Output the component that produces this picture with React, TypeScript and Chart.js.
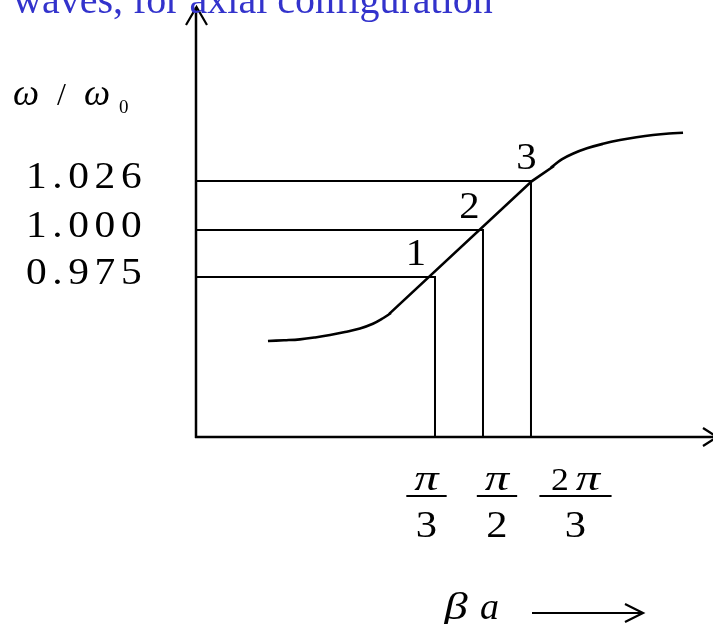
import React, { useEffect, useRef } from "react";
import { Chart, registerables } from "chart.js";

Chart.register(...registerables);

// ---------- data ----------
const TITLE = "waves, for axial configuration";
const X_AXIS_NAME = ["β", "a"];

const Y_TICK_VALUES = [0.975, 1.0, 1.026];
const Y_TICK_LABELS = ["0.975", "1.000", "1.026"];

const X_TICK_VALUES = [Math.PI / 3, Math.PI / 2, (2 * Math.PI) / 3];
const X_TICK_NUMERATORS = ["π", "π", "2π"];
const X_TICK_DENOMINATORS = ["3", "2", "3"];

const POINT_LABELS = ["1", "2", "3"];

// dispersion curve (βa, ω/ω0): lower bend, linear middle, upper bend
const LOWER_X = [-0.775, -0.6, -0.426, -0.26, -0.098, 0.065, 0.229, 0.37, 0.48, 0.567];
const LOWER_Y = [0.941, 0.9414, 0.9419, 0.9429, 0.9442, 0.9458, 0.9477, 0.9502, 0.9531, 0.9559];
const LINEAR_X = [0.545, 2.105, 2.345];
const LINEAR_Y = [0.9553, 1.026, 1.034];
const UPPER_X = [2.312, 2.43, 2.55, 2.705, 2.88, 3.065, 3.245, 3.425, 3.6, 3.753];
const UPPER_Y = [1.0332, 1.0375, 1.0405, 1.0434, 1.0458, 1.0478, 1.0493, 1.0505, 1.0513, 1.0517];

// axis extents
const X_MIN = -1.56;
const X_MAX = 4.08;
const Y_MIN = 0.89;
const Y_MAX = 1.1185;

// ---------- style / layout ----------
const FONT = '"Liberation Serif", "Times New Roman", serif';
const FRACTION_DX = [-8.5, 14, 44.5];
const POINT_LABEL_DX = [-19, -13.5, -4.5];

type TextOpts = {
  size: number;
  italic?: boolean;
  sx?: number;
  spacing?: number;
  align?: "left" | "center" | "right";
  color?: string;
};

function drawText(ctx: CanvasRenderingContext2D, text: string, x: number, y: number, o: TextOpts) {
  ctx.save();
  ctx.font = `${o.italic ? "italic " : ""}${o.size}px ${FONT}`;
  ctx.fillStyle = o.color ?? "#000";
  ctx.textBaseline = "alphabetic";
  ctx.textAlign = "left";
  const sx = o.sx ?? 1;
  const sp = o.spacing ?? 0;
  const chars = Array.from(text);
  const widths = chars.map((c) => ctx.measureText(c).width);
  const total = (widths.reduce((a, b) => a + b, 0) + sp * (chars.length - 1)) * sx;
  let start = x;
  if (o.align === "center") start = x - total / 2;
  if (o.align === "right") start = x - total;
  ctx.translate(start, y);
  ctx.scale(sx, 1);
  let cx = 0;
  chars.forEach((c, i) => {
    ctx.fillText(c, cx, 0);
    cx += widths[i] + sp;
  });
  ctx.restore();
  return total;
}

// mixed numerator: digits upright & smaller, greek letters italic
const isGreek = (c: string) => /[\u0370-\u03ff]/.test(c);
function numParts(text: string) {
  return Array.from(text).map((c) =>
    isGreek(c) ? { c, o: { size: 36, italic: true, sx: 1.35 } as TextOpts } : { c, o: { size: 31, sx: 1.15 } as TextOpts }
  );
}
function measure(ctx: CanvasRenderingContext2D, c: string, o: TextOpts) {
  ctx.save();
  ctx.font = `${o.italic ? "italic " : ""}${o.size}px ${FONT}`;
  const w = ctx.measureText(c).width * (o.sx ?? 1);
  ctx.restore();
  return w;
}
function drawNumerator(ctx: CanvasRenderingContext2D, text: string, cx: number, y: number) {
  const parts = numParts(text);
  const gap = 7;
  const ws = parts.map((p) => measure(ctx, p.c, p.o));
  const total = ws.reduce((a, b) => a + b, 0) + gap * (parts.length - 1);
  let x = cx - total / 2;
  parts.forEach((p, i) => {
    drawText(ctx, p.c, x, y, p.o);
    x += ws[i] + gap;
  });
  return total;
}

function line(ctx: CanvasRenderingContext2D, pts: number[][], w: number) {
  ctx.save();
  ctx.strokeStyle = "#000";
  ctx.lineWidth = w;
  ctx.lineCap = "butt";
  ctx.lineJoin = "miter";
  ctx.beginPath();
  pts.forEach((p, i) => (i === 0 ? ctx.moveTo(p[0], p[1]) : ctx.lineTo(p[0], p[1])));
  ctx.stroke();
  ctx.restore();
}

const decor = {
  id: "decor",
  beforeDatasetsDraw(chart: any) {
    const ctx: CanvasRenderingContext2D = chart.ctx;
    const a = chart.chartArea;
    // y axis with arrow
    line(ctx, [[a.left, a.bottom + 1], [a.left, a.top]], 2.5);
    line(ctx, [[a.left - 10, a.top + 18], [a.left + 0.5, a.top], [a.left + 11, a.top + 18]], 2.2);
    // x axis with arrow
    line(ctx, [[a.left - 1, a.bottom], [a.right + 4, a.bottom]], 2.5);
    line(ctx, [[a.right - 10, a.bottom - 9], [a.right + 4, a.bottom], [a.right - 10, a.bottom + 9]], 2.2);
  },
  afterDatasetsDraw(chart: any) {
    const ctx: CanvasRenderingContext2D = chart.ctx;
    const xs = chart.scales.x;
    const ys = chart.scales.y;

    // title
    drawText(ctx, TITLE, 13, 13, { size: 40, color: "#3333cc" });

    // y axis name: ω / ω0
    drawText(ctx, "ω", 13, 105, { size: 37, italic: true });
    drawText(ctx, "/", 57, 105, { size: 32 });
    drawText(ctx, "ω", 84, 105, { size: 37, italic: true });
    drawText(ctx, "0", 119, 113, { size: 19 });

    // y tick labels
    Y_TICK_VALUES.forEach((v, i) => {
      const py = ys.getPixelForValue(v);
      drawText(ctx, Y_TICK_LABELS[i], 26, py + 7, { size: 37, sx: 1.12, spacing: 5 });
    });

    // point labels 1,2,3
    X_TICK_VALUES.forEach((v, i) => {
      const px = xs.getPixelForValue(v);
      const py = ys.getPixelForValue(Y_TICK_VALUES[i]);
      drawText(ctx, POINT_LABELS[i], px + POINT_LABEL_DX[i], py - 12, { size: 37, sx: 1.1, align: "center" });
    });

    // x tick fraction labels
    X_TICK_VALUES.forEach((v, i) => {
      const cx = xs.getPixelForValue(v) + FRACTION_DX[i];
      const nw = drawNumerator(ctx, X_TICK_NUMERATORS[i], cx, 490);
      const barW = nw + (X_TICK_NUMERATORS[i].length > 1 ? 23 : 16);
      line(ctx, [[cx - barW / 2, 496], [cx + barW / 2, 496]], 1.8);
      drawText(ctx, X_TICK_DENOMINATORS[i], cx, 537, { size: 37, sx: 1.15, align: "center" });
    });

    // x axis name: β a  ----->
    drawText(ctx, X_AXIS_NAME[0], 444, 619, { size: 38, italic: true, sx: 1.25 });
    drawText(ctx, X_AXIS_NAME[1], 480, 619, { size: 38, italic: true });
    line(ctx, [[532, 613], [642, 613]], 2.2);
    line(ctx, [[625, 604], [643, 613], [625, 622]], 2.2);
  },
};

const toPts = (xs: number[], ys: number[]) => xs.map((x, i) => ({ x, y: ys[i] }));

export default function App() {
  const ref = useRef<HTMLCanvasElement>(null);
  useEffect(() => {
    const canvas = ref.current!;
    const refLines = X_TICK_VALUES.map((xv, i) => ({
      data: [
        { x: X_MIN, y: Y_TICK_VALUES[i] },
        { x: xv, y: Y_TICK_VALUES[i] },
        { x: xv, y: Y_MIN },
      ],
      showLine: true,
      pointRadius: 0,
      borderColor: "#000",
      borderWidth: 2,
      tension: 0,
      fill: false,
    }));
    const curve = {
      showLine: true,
      pointRadius: 0,
      borderColor: "#000",
      borderWidth: 2.6,
      fill: false,
      borderCapStyle: "butt",
    };
    const chart = new Chart(canvas, {
      type: "scatter",
      data: {
        datasets: [
          ...refLines,
          { ...curve, data: toPts(LOWER_X, LOWER_Y), tension: 0.4 },
          { ...curve, data: toPts(LINEAR_X, LINEAR_Y), tension: 0 },
          { ...curve, data: toPts(UPPER_X, UPPER_Y), tension: 0.4 },
        ] as any,
      },
      options: {
        responsive: false,
        animation: false,
        devicePixelRatio: 1,
        events: [],
        layout: { padding: { left: 196, top: 7, right: 0, bottom: 187 } },
        scales: {
          x: { type: "linear", min: X_MIN, max: X_MAX, display: false },
          y: { type: "linear", min: Y_MIN, max: Y_MAX, display: false },
        },
        plugins: {
          legend: { display: false },
          tooltip: { enabled: false },
          title: { display: false },
        },
      } as any,
      plugins: [decor as any],
    });
    return () => chart.destroy();
  }, []);
  return (
    <div style={{ position: "fixed", left: 0, top: 0, width: 713, height: 624, background: "#fff" }}>
      <canvas ref={ref} width={713} height={624} style={{ display: "block", width: 713, height: 624 }} />
    </div>
  );
}
